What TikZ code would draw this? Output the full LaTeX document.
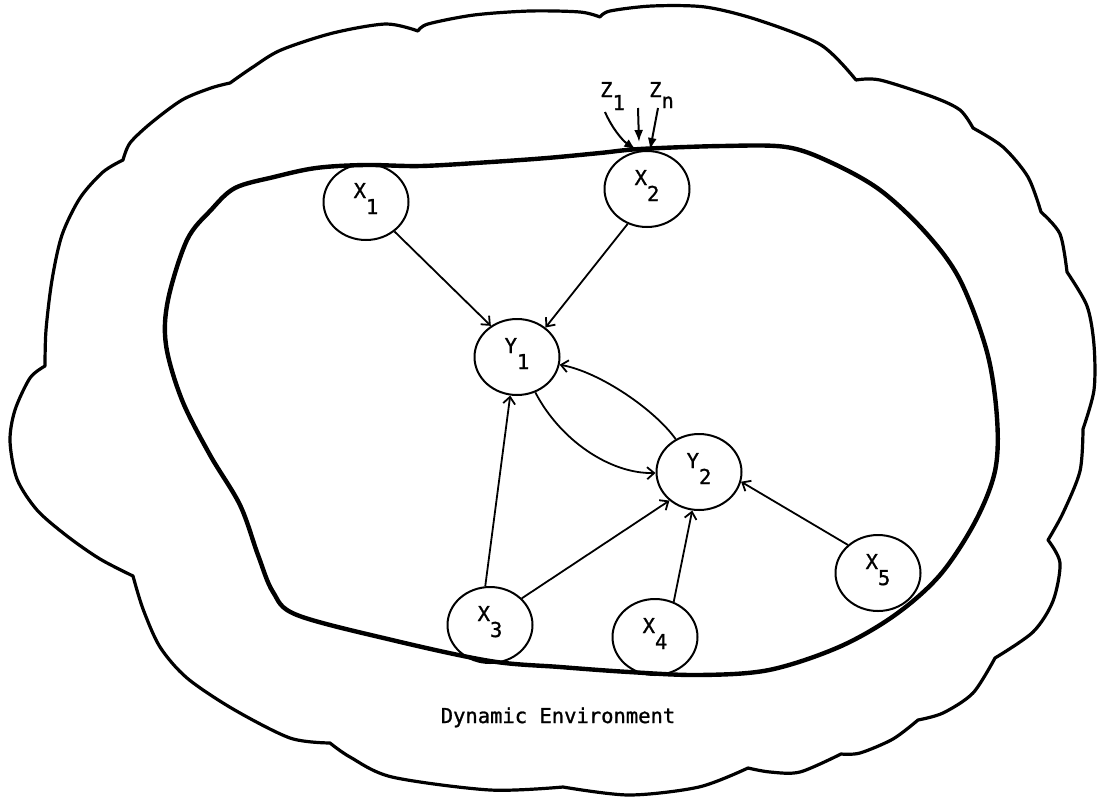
\documentclass[tikz,border=0pt]{standalone}
\usepackage{fontspec}
\newfontfamily\typer[FakeBold=1.2]{DejaVu Sans Mono}
\usetikzlibrary{shapes.geometric,arrows.meta}

% variable name with a typewriter-style lowered index
\newcommand\sublabel[2]{\smash{\raisebox{4pt}{#1}\raisebox{-12pt}{#2}}}

\begin{document}
\begin{tikzpicture}[x=1pt,y=-1pt,
  tt/.style={font=\typer\fontsize{20.5}{20.5}\selectfont},
  var/.style={ellipse, draw, line width=2pt, minimum width=85pt,
    minimum height=76pt, inner sep=0pt, tt},
  link/.style={line width=1.8pt,
    -{Straight Barb[length=7pt,width=12pt,line width=1.8pt]}},
  input/.style={line width=2pt, -{Latex[length=12pt,width=9pt]}},
  env/.style={line width=3.2pt, line join=round},
  system/.style={line width=4.4pt},
]
\useasboundingbox[fill=white] (0,0) rectangle (1097,801);

% outer environment cloud, one smooth bump between each pair of cusps
\draw[env] (45,366)
  -- plot[smooth] coordinates {(45,366) (46,330) (52,280) (62,235) (80,198) (103,172) (123,160)}
  -- plot[smooth] coordinates {(123,160) (130,143) (151,123) (182,100) (211,88) (230,83)}
  -- plot[smooth] coordinates {(230,83) (253,67) (281,50) (333,33) (386,24) (418,31)}
  -- plot[smooth] coordinates {(418,31) (428,24) (474,15) (530,11) (580,12) (600,17)}
  -- plot[smooth] coordinates {(600,17) (610,11) (652,6) (705,7) (758,20) (821,45) (856,80)}
  -- plot[smooth] coordinates {(856,80) (880,80) (933,97) (960,110) (973,128)}
  -- plot[smooth] coordinates {(973,128) (1003,147) (1028,177) (1041,212)}
  -- plot[smooth] coordinates {(1041,212) (1060,234) (1067,272)}
  -- plot[smooth] coordinates {(1067,272) (1087,306) (1094,345) (1094,390) (1083,429)}
  -- plot[smooth] coordinates {(1083,429) (1080,471) (1063,513) (1048,540)}
  -- plot[smooth] coordinates {(1048,540) (1060,563) (1053,601) (1033,632) (995,658)}
  -- plot[smooth] coordinates {(995,658) (973,693) (943,713) (918,720)}
  -- plot[smooth] coordinates {(918,720) (893,739) (860,753) (841,754)}
  -- plot[smooth] coordinates {(841,754) (800,772) (770,772) (748,768)}
  -- plot[smooth] coordinates {(748,768) (699,787) (629,795) (563,787)}
  -- plot[smooth] coordinates {(563,787) (490,790) (392,777) (350,757) (330,743)}
  -- plot[smooth] coordinates {(330,743) (290,738) (233,709) (187,678) (160,647) (143,609) (133,576)}
  -- plot[smooth] coordinates {(133,576) (100,559) (67,536) (37,510) (17,479) (10,441) (15,410) (30,378) (45,366)}
  -- cycle;

% system boundary
\draw[system] plot[smooth cycle, tension=0.55] coordinates {
  (274,177) (316,168) (365,165) (421,166) (491,162) (547,158) (600,153)
  (640,149) (722,146) (786,147) (830,162) (880,190) (926,233) (960,280)
  (987,352) (997,418) (995,471) (975,522) (940,575) (895,615) (839,647)
  (769,670) (699,675) (629,672) (560,667) (490,661) (392,640) (297,615)
  (273,592) (258,555) (240,505) (210,455) (182,400) (166,345) (168,300)
  (187,240) (211,210) (235,188)};

% variables
\node[var] (X1) at (366,202) {\sublabel{X}{1}};
\node[var] (X2) at (647,189) {\sublabel{X}{2}};
\node[var] (Y1) at (517,357) {\sublabel{Y}{1}};
\node[var] (Y2) at (699,472) {\sublabel{Y}{2}};
\node[var] (X3) at (490,625) {\sublabel{X}{3}};
\node[var] (X4) at (655,637) {\sublabel{X}{4}};
\node[var] (X5) at (878,573) {\sublabel{X}{5}};

% causal links
\draw[link] (X1.-46) -- (Y1.130);
\draw[link] (X2.-119) -- (Y1.46);
\draw[link] (X3.97) -- (Y1.-100);
\draw[link] (X3.40) -- (Y2.-136);
\draw[link] (X4.62) -- (Y2.-100);
\draw[link] (X5.137) -- (Y2.-13);
\draw[link] (Y1) .. controls (560,440) and (610,474) .. (Y2);
\draw[link] (Y2) .. controls (655,410) and (600,372) .. (Y1);

% external inputs
\node[tt, anchor=base west, inner sep=0pt] (Z1) at (600,97) {Z\raisebox{-13pt}{1}};
\node[tt, anchor=base west, inner sep=0pt] (Zn) at (649,97) {Z\raisebox{-11pt}{n}};
\coordinate (z1a) at (605,112);
\coordinate (z1b) at (636,150);
\coordinate (zma) at (638,108);
\coordinate (zmb) at (639,142);
\coordinate (zna) at (658,108);
\coordinate (znb) at (650,150);
\draw[input] (z1a) .. controls (612,128) and (622,140) .. (z1b);
\draw[input] (zma) -- (zmb);
\draw[input] (zna) -- (znb);

\node[tt, anchor=base] (env) at (558,723) {Dynamic Environment};
\end{tikzpicture}
\end{document}
